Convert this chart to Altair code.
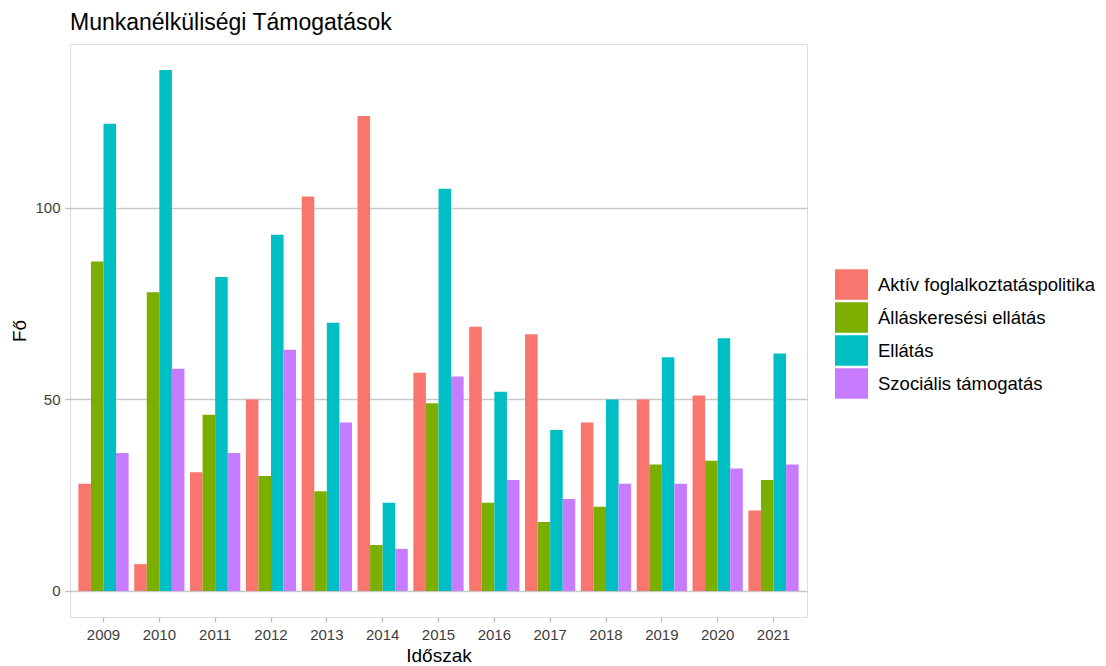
import altair as alt
import pandas as pd

years = [str(y) for y in range(2009, 2022)]
series = ["Aktív foglalkoztatáspolitika", "Álláskeresési ellátás", "Ellátás", "Szociális támogatás"]
colors = ["#F8766D", "#7CAE00", "#00BFC4", "#C77CFF"]

aktiv = [28, 7, 31, 50, 103, 124, 57, 69, 67, 44, 50, 51, 21]
allaskeresesi = [86, 78, 46, 30, 26, 12, 49, 23, 18, 22, 33, 34, 29]
ellatas = [122, 136, 82, 93, 70, 23, 105, 52, 42, 50, 61, 66, 62]
szocialis = [36, 58, 36, 63, 44, 11, 56, 29, 24, 28, 28, 32, 33]

values = [aktiv, allaskeresesi, ellatas, szocialis]
rows = []
for s, vals in zip(series, values):
    for y, v in zip(years, vals):
        rows.append({"Időszak": y, "Típus": s, "Fő": v})
df = pd.DataFrame(rows)

FONT = "Liberation Sans"

chart = alt.Chart(df).mark_bar().encode(
    x=alt.X("Időszak:N", sort=years,
            scale=alt.Scale(paddingInner=0.1, paddingOuter=0.15),
            axis=alt.Axis(title="Időszak", labelAngle=0, labelFontSize=15,
                          labelColor="#3D3D3D", labelFont=FONT, titleFont=FONT,
                          titleFontSize=19, titleFontWeight="normal", titleColor="black",
                          tickColor="#BDBDBD", tickSize=5, tickWidth=1.3, labelPadding=5,
                          titlePadding=4, domain=False, grid=False)),
    xOffset=alt.XOffset("Típus:N", sort=series,
                        scale=alt.Scale(paddingInner=0, paddingOuter=0)),
    y=alt.Y("Fő:Q",
            scale=alt.Scale(domain=[-6.8, 142.8], nice=False, zero=False),
            axis=alt.Axis(title="Fő", values=[0, 50, 100], labelFontSize=15,
                          labelColor="#3D3D3D", labelFont=FONT, titleFont=FONT,
                          titleFontSize=19, titleFontWeight="normal", titleColor="black",
                          tickColor="#BDBDBD", tickSize=5, tickWidth=1.3, labelPadding=5,
                          titlePadding=5, domain=False, grid=True,
                          gridColor="#C8C8C8", gridWidth=1.4)),
    y2=alt.datum(0),
    color=alt.Color("Típus:N", sort=series,
                    scale=alt.Scale(domain=series, range=colors),
                    legend=alt.Legend(title=None, orient="none", legendX=765, legendY=224,
                                      padding=0, labelFontSize=18.5, labelFont=FONT,
                                      labelColor="black", labelOffset=10,
                                      symbolType="M-1,-0.93H1V0.93H-1Z", symbolSize=1089,
                                      symbolStrokeWidth=0, symbolOpacity=1,
                                      rowPadding=1, labelLimit=400)),
).properties(
    width=737,
    height=573,
    title=alt.TitleParams("Munkanélküliségi Támogatások", anchor="start", frame="group",
                          fontSize=23, fontWeight="normal", font=FONT, color="black",
                          offset=9),
    autosize=alt.AutoSizeParams(type="none"),
    padding={"left": 62, "top": 36, "right": 289, "bottom": 49},
).configure_view(
    stroke="#BDBDBD", strokeWidth=2
).configure(background="white")

chart.save("out.html", embed_options={"renderer": "svg", "actions": False})
